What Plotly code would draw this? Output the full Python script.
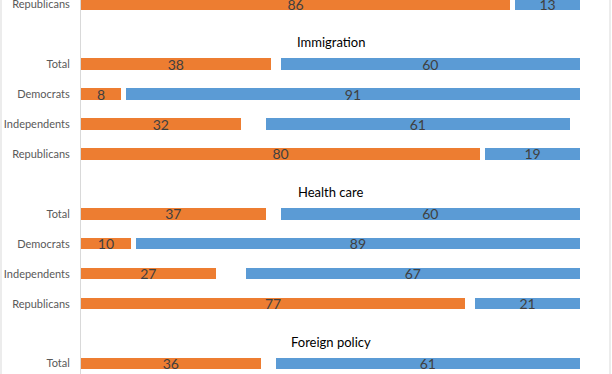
import plotly.graph_objects as go

# Rows from top to bottom (None = group header row)
row_labels = ["Republicans", None, "Total", "Democrats", "Independents", "Republicans",
              None, "Total", "Democrats", "Independents", "Republicans", None, "Total"]
headers = {1: "Immigration", 6: "Health care", 11: "Foreign policy"}
orange_vals = [86, None, 38, 8, 32, 80, None, 37, 10, 27, 77, None, 36]
other_vals = [1, None, 2, 1, 5, 1, None, 3, 1, 6, 2, None, 3]
blue_vals = [13, None, 60, 91, 61, 19, None, 60, 89, 67, 21, None, 61]

ORANGE = "#ED7D31"
BLUE = "#5B9BD5"
FONT = "Lato"

ys = list(range(len(row_labels)))
bar_w = 0.38

fig = go.Figure()
fig.add_trace(go.Bar(
    y=ys, x=orange_vals, orientation="h", marker=dict(color=ORANGE, line=dict(width=0)),
    width=bar_w, text=[str(v) if v is not None else "" for v in orange_vals],
    textposition="inside", insidetextanchor="middle", constraintext="none", textangle=0,
    textfont=dict(color="#404040", size=14, family=FONT),
    hoverinfo="skip", showlegend=False))
fig.add_trace(go.Bar(
    y=ys, x=other_vals, orientation="h", marker=dict(color="rgba(0,0,0,0)", line=dict(width=0)),
    width=bar_w, hoverinfo="skip", showlegend=False))
fig.add_trace(go.Bar(
    y=ys, x=blue_vals, orientation="h", marker=dict(color=BLUE, line=dict(width=0)),
    width=bar_w, text=[str(v) if v is not None else "" for v in blue_vals],
    textposition="inside", insidetextanchor="middle", constraintext="none", textangle=0,
    textfont=dict(color="#404040", size=14, family=FONT),
    hoverinfo="skip", showlegend=False))

for i, h in headers.items():
    fig.add_annotation(x=50, y=i, xref="x", yref="y", text=h, showarrow=False,
                       yshift=-8, font=dict(size=13, color="#000000", family=FONT))

tickvals = [i for i, l in enumerate(row_labels) if l]
ticktext = [l for l in row_labels if l]

fig.update_layout(
    barmode="stack",
    width=612, height=374,
    margin=dict(l=81, r=32, t=0, b=0, autoexpand=False),
    paper_bgcolor="white", plot_bgcolor="white",
    xaxis=dict(range=[0, 100], visible=False, showgrid=False, zeroline=False,
               automargin=False),
    yaxis=dict(range=[12.35, -0.144], tickvals=tickvals, ticktext=ticktext,
               showline=True, linecolor="#D9D9D9", linewidth=1, showgrid=False,
               zeroline=False, ticks="", ticklabelstandoff=8, automargin=False,
               ticklabeloverflow="allow",
               tickfont=dict(size=11, color="#595959", family=FONT)),
    shapes=[dict(type="line", xref="paper", yref="paper", x0=-80/499, x1=-80/499,
                 y0=-0.1, y1=1.1, line=dict(color="#D9D9D9", width=1)),
            dict(type="line", xref="paper", yref="paper", x0=1 + 30/499, x1=1 + 30/499,
                 y0=-0.1, y1=1.1, line=dict(color="#D9D9D9", width=1))],
)

fig.write_html("out.html", config={"displayModeBar": False},
               post_script="document.body.style.margin='0';document.body.style.padding='0';")
